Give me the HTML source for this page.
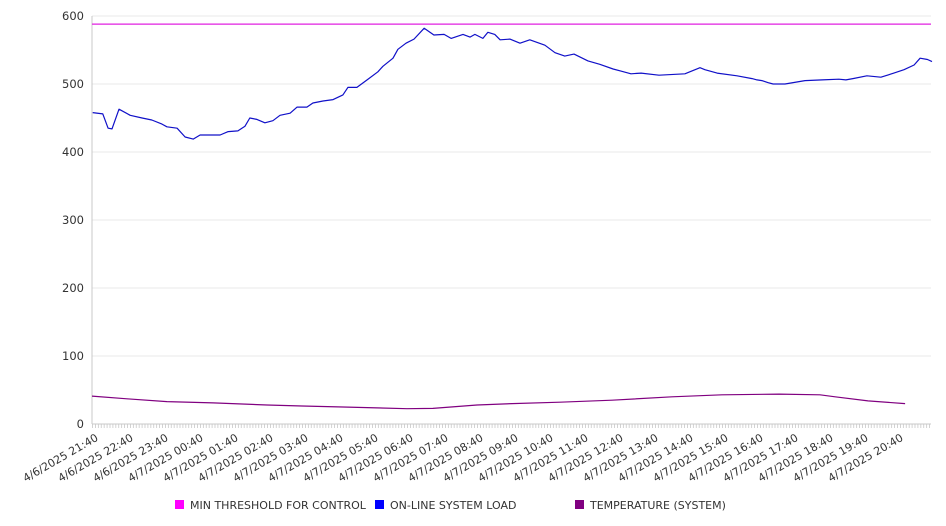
<!DOCTYPE html>
<html><head><meta charset="utf-8"><style>
body{margin:0;background:#fff;}
svg{display:block;font-family:"DejaVu Sans","Liberation Sans",sans-serif;}
</style></head><body>
<svg id="chart" width="946" height="526"></svg>
<script>
const yTicks=[0,100,200,300,400,500,600];
const xLabels=["4/6/2025 21:40","4/6/2025 22:40","4/6/2025 23:40","4/7/2025 00:40","4/7/2025 01:40","4/7/2025 02:40","4/7/2025 03:40","4/7/2025 04:40","4/7/2025 05:40","4/7/2025 06:40","4/7/2025 07:40","4/7/2025 08:40","4/7/2025 09:40","4/7/2025 10:40","4/7/2025 11:40","4/7/2025 12:40","4/7/2025 13:40","4/7/2025 14:40","4/7/2025 15:40","4/7/2025 16:40","4/7/2025 17:40","4/7/2025 18:40","4/7/2025 19:40","4/7/2025 20:40"];
const threshold=588;
// hours since 21:40
const loadHours=[0.02,0.31,0.46,0.57,0.77,1.09,1.43,1.71,2.0,2.14,2.43,2.66,2.89,3.09,3.37,3.66,3.89,4.17,4.37,4.51,4.71,4.94,5.17,5.37,5.66,5.86,6.14,6.31,6.6,6.89,7.17,7.31,7.57,7.86,8.17,8.31,8.6,8.74,8.97,9.2,9.49,9.77,10.06,10.26,10.6,10.8,10.94,11.17,11.31,11.51,11.66,11.94,12.23,12.51,12.94,13.23,13.51,13.77,14.17,14.51,14.89,15.11,15.4,15.69,16.2,16.94,17.37,17.51,17.86,18.43,18.86,19.0,19.14,19.31,19.46,19.8,20.37,20.86,21.34,21.54,21.74,22.14,22.54,22.91,23.2,23.49,23.66,23.87,24.0];
const loadValues=[458,456,435,434,463,454,450,447,441,437,435,422,419,425,425,425,430,431,438,450,448,443,446,454,457,466,466,472,475,477,484,495,495,506,518,526,538,551,560,566,582,572,573,567,573,569,573,567,576,573,565,566,560,565,557,546,541,544,534,529,522,519,515,516,513,515,524,521,516,512,508,506,505,502,500,500,505,506,507,506,508,512,510,516,521,528,538,536,533];
const tempHours=[0,1,2.14,3.46,5.0,6.0,7.17,9.0,9.74,11.0,12.0,13.37,14.86,16.57,18.0,19.63,20.8,21.23,22.17,23.23];
const tempValues=[41,37,33,31,28,26.5,25,22.5,23,28,30,32,35,40,43,44,43,40,34,30];
</script>
<script>
const svg=document.getElementById('chart');
const NS='http://www.w3.org/2000/svg';
const X0=92,X1=931,Y0=424,Y1=16;
const HRS=24*(X1-X0)/840;
function xs(h){return X0+h*35;}
function ys(v){return Y0-(v/600)*(Y0-Y1);}
function mk(t,a,p){const e=document.createElementNS(NS,t);for(const k in a)e.setAttribute(k,a[k]);(p||svg).appendChild(e);return e;}
// grid + y labels
yTicks.forEach(v=>{
  const g=mk('line',{x1:X0,x2:X1,y1:ys(v),y2:ys(v),stroke:'#e8e8e8','stroke-width':1});
  
  
  const t=mk('text',{x:84,y:ys(v)+4,'text-anchor':'end','font-size':11.5,fill:'#333'});
  t.textContent=v;
  
  
});
// axes
const ax=mk('line',{x1:X0,x2:X0,y1:Y1,y2:Y0,stroke:'#c8c8c8','stroke-width':1});


const bx=mk('line',{x1:X0,x2:X1,y1:Y0,y2:Y0,stroke:'#c8c8c8','stroke-width':1});


// minor ticks
let d='';
for(let m=0;xs(m/12)<=X1+0.1;m++){const x=xs(m/12)+0.5;d+=`M${x},${Y0}v4`;}
const tk=mk('path',{d:d,stroke:'#c8c8c8','stroke-width':0.8});


// x labels
xLabels.forEach((s,i)=>{
  const x=xs(i)+3,y=Y0+9;
  const t=mk('text',{x:0,y:0,'text-anchor':'end','font-size':11,fill:'#333',transform:`translate(${x},${y}) rotate(-30) translate(0,8)`});
  t.textContent=s;
  
  
});
// threshold
const th=mk('line',{x1:X0,x2:X1,y1:ys(threshold),y2:ys(threshold),stroke:'#e020e0','stroke-width':1.2});


function path(hs,vs,col,name){
  const pts=hs.map((h,i)=>(i?'L':'M')+xs(h).toFixed(1)+','+ys(vs[i]).toFixed(1)).join('');
  const p=mk('path',{d:pts,fill:'none',stroke:col,'stroke-width':1.2,'stroke-linejoin':'round'});
  
  
}
path(loadHours,loadValues,'#1010c8','online-system-load-line');
path(tempHours,tempValues,'#800080','temperature-line');
// legend
const leg=[['MIN THRESHOLD FOR CONTROL','#ff00ff',175],['ON-LINE SYSTEM LOAD','#0000ff',375],['TEMPERATURE (SYSTEM)','#800080',575]];
leg.forEach(l=>{
  const g=mk('g',{});
  
  
  mk('rect',{x:l[2],y:500,width:9,height:9,fill:l[1]},g);
  const t=mk('text',{x:l[2]+15,y:509,'font-size':11,fill:'#333'},g);
  t.textContent=l[0];
});
</script>
</body></html>
